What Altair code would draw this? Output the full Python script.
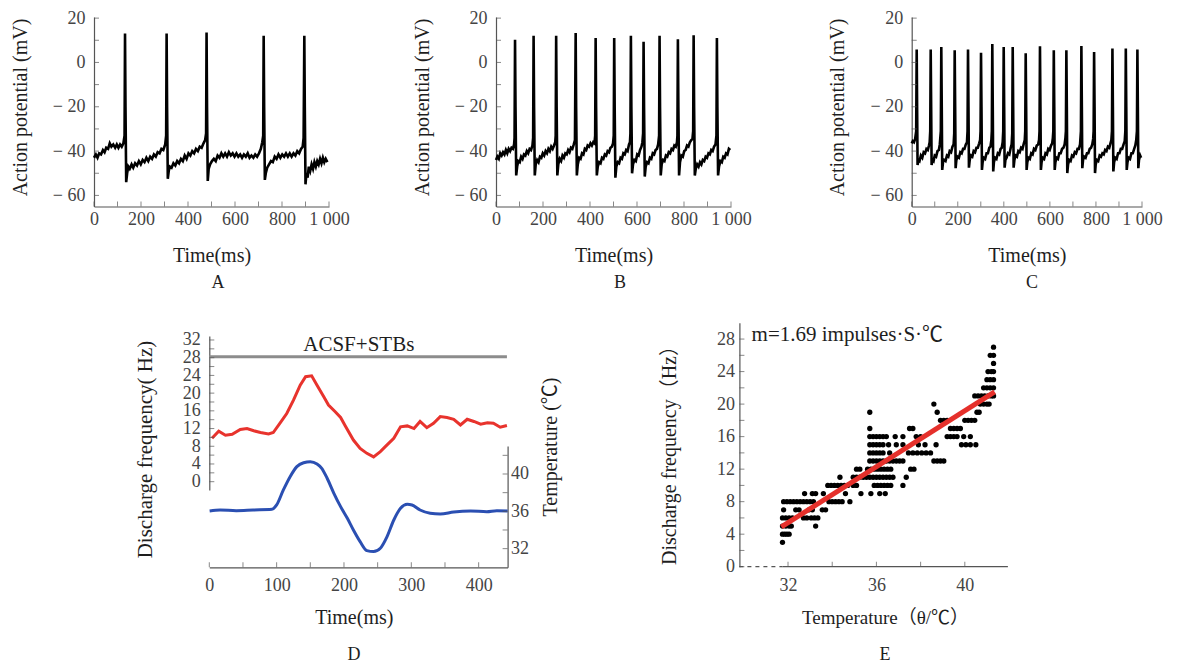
import altair as alt
import pandas as pd

FONT = "Liberation Serif, Noto Sans CJK SC"
W, H = 1165, 657
AXC = "#555555"
LBL = "#444444"
TTL = "#1e1e1e"

# ---------------- data ----------------
# Panel A/B/C : (time ms, potential mV)
trace_a = [(0,-43),(8,-41.5),(15,-43),(22,-41),(30,-41.5),(38,-39.5),(45,-40.5),(52,-38.5),(60,-39),(67,-36.5),
 (74,-38),(82,-37),(90,-38.5),(97,-37),(104,-38.5),(111,-37),(118,-38),(125,-36.5),(130,-33),(132,13),(134,-20),
 (137,-54),(141,-50),(146,-47),(152,-48),(160,-46),(167,-47.5),(175,-45.5),(183,-46.5),(191,-44.5),(199,-46),
 (207,-44),(215,-45),(223,-43),(231,-44.5),(239,-42.5),(247,-43.5),(255,-41.5),(263,-42.5),(271,-40.5),(279,-41),
 (287,-39),(295,-39.5),(303,-37),(307,-33),(309,13),(311,-20),(314,-52.5),(318,-49),(323,-47),(330,-47.5),
 (338,-45.5),(346,-46.5),(354,-44.5),(362,-45.5),(370,-43.5),(378,-44.5),(386,-42),(394,-43.5),(402,-41),
 (410,-42),(418,-40),(426,-41),(434,-39),(442,-40),(450,-38),(458,-38.5),(466,-36.5),(473,-35),(477,-32),
 (479,13.5),(481,-20),(484,-53.5),(488,-48),(494,-46),(502,-44.5),(510,-43.5),(518,-44.5),(526,-42),(534,-43),
 (542,-41),(550,-42.5),(558,-41),(566,-42.5),(574,-40.5),(582,-42),(590,-41),(598,-42.5),(606,-41),(614,-42.5),
 (622,-41.5),(630,-43),(638,-41.5),(646,-42.5),(654,-41),(662,-43),(670,-42),(678,-43),(686,-41.5),(694,-42.5),
 (702,-41),(710,-39),(716,-36),(720,-33),(722,12),(724,-20),(727,-53),(731,-50),(737,-47.5),(745,-46),
 (753,-44.5),(761,-45),(769,-42.5),(777,-43.5),(785,-41.5),(793,-43),(801,-41.5),(809,-42.5),(817,-41),
 (825,-42.5),(833,-41),(841,-42.5),(849,-41),(857,-42),(865,-40),(873,-41),(881,-39),(888,-38),(892,-34),
 (895,12),(897,-20),(900,-55),(904,-50),(909,-52),(914,-47),(920,-49),(926,-46),(932,-48),(938,-45),(944,-47),
 (950,-44.5),(956,-46),(962,-43.5),(968,-45.5),(974,-43),(980,-45),(986,-43.5),(993,-45)]

trace_b = [(0,-44),(6,-42.5),(12,-43.5),(18,-41),(24,-42),(30,-40.5),(36,-41.5),(42,-39.5),(48,-41),(54,-39),
 (60,-40),(66,-38.5),(72,-39),(77,-37),(79,-34),(81,10.2),(83,-20),(86,-51),(90,-47),(95,-44.5),(101,-45),
 (107,-42.5),(113,-43.5),(119,-41.5),(125,-42),(131,-40),(137,-41),(143,-39),(149,-39.5),(155,-37.5),(158,-34),
 (160,12),(162,-20),(165,-51),(169,-46),(175,-44),(181,-45),(187,-42.5),(193,-43),(199,-41),(205,-42),(211,-40),
 (217,-41),(223,-39),(229,-40),(235,-38),(241,-39),(247,-37.5),(252,-36),(254,-33),(256,12),(258,-20),(261,-51),
 (265,-46),(271,-43.5),(277,-44.5),(283,-42),(289,-43),(295,-41),(301,-41.5),(307,-39.5),(313,-40.5),(319,-38.5),
 (325,-39),(331,-37),(336,-35),(339,13.3),(341,-20),(344,-51),(348,-46),(354,-43),(360,-43.5),(366,-41),
 (372,-41.5),(378,-39),(384,-39.5),(390,-37.5),(396,-38),(402,-36.5),(408,-37.5),(414,-36),(419,-36.5),
 (422,-33),(424,11),(426,-20),(429,-51),(433,-47),(439,-45),(445,-45.5),(451,-43),(457,-43.5),(463,-41.5),
 (469,-42),(475,-40),(481,-40.5),(487,-38.5),(493,-38),(498,-36.5),(501,-33),(503,11),(505,-20),(508,-52),
 (512,-47),(518,-45),(524,-45.5),(530,-43),(536,-43.5),(542,-41),(548,-41.5),(554,-39.5),(560,-40),(566,-37),
 (570,-36),(572,-32),(574,12),(576,-20),(579,-50),(583,-46),(589,-44),(595,-44.5),(601,-41.5),(607,-42),
 (613,-39.5),(619,-38),(623,-36),(626,-32),(628,9.3),(630,-20),(633,-51.5),(637,-47),(643,-45),(649,-45.5),
 (655,-43),(661,-43.5),(667,-41),(673,-41.5),(679,-39.5),(685,-39),(690,-37),(694,-33),(696,12),(698,-20),
 (701,-51),(705,-46),(711,-44),(717,-44.5),(723,-42),(729,-42.5),(735,-40.5),(741,-41),(747,-39),(753,-39.5),
 (759,-37.5),(765,-38),(770,-36),(772,-33),(774,10.5),(776,-20),(779,-51),(783,-45),(789,-42),(795,-42.5),
 (801,-40),(807,-39.5),(813,-37.5),(819,-38),(825,-36),(831,-35),(836,-34.5),(839,-31),(841,12.3),(843,-20),
 (846,-51),(850,-48),(856,-46),(862,-47),(868,-45),(874,-46),(880,-44),(886,-44.5),(892,-42.5),(898,-43),
 (904,-41),(910,-41.5),(916,-39.5),(922,-40),(928,-38),(934,-37),(938,-33),(940,11),(942,-20),(945,-51),
 (949,-47),(955,-44.5),(961,-45),(967,-42.5),(973,-43),(979,-41),(985,-41.5),(991,-39),(997,-39.5)]

trace_c = [(0,-36.5),(5,-35.5),(10,-36),(15,-34.5),(19.5,-31),(21.7,5.8),(23.5,-20),(25.5,-46.3),(29,-44),
 (34,-44.5),(40,-42),(46,-43),(52,-40.5),(58,-41),(64,-39),(70,-39.5),(75,-37.5),(78,-36),(80.5,-31),(82.5,5.8),
 (84.5,-20),(86.5,-46.3),(90,-44),(95,-44.5),(100,-42),(106,-42.5),(112,-40),(118,-39.5),(122,-37),(126.5,-31),
 (128.5,7.0),(130.5,-20),(132.5,-48.5),(136,-45),(141,-44),(147,-44.5),(153,-42),(159,-42.5),(165,-40),
 (171,-40.5),(177,-38),(182,-37),(184.7,-32),(186.7,5.5),(188.7,-20),(190.7,-47.7),(194,-44),(199,-42.5),
 (205,-43),(211,-40.5),(217,-41),(223,-39),(229,-39),(235,-37),(240,-36),(242.5,-31),(244.5,5.8),(246.5,-20),
 (248.5,-47.5),(252,-44),(257,-42),(263,-42.5),(269,-40),(275,-40.5),(281,-38.5),(287,-38.5),(293,-36.5),
 (297,-35),(299,-31),(301,4.4),(303,-20),(305,-48.5),(308,-45),(313,-43),(319,-43.5),(325,-41),(331,-41),
 (337,-38.5),(342,-38),(346,-35),(348,-31),(350,8.3),(352,-20),(354,-49.2),(357,-45),(362,-43),(368,-43.5),
 (374,-41),(380,-41.5),(386,-39),(391,-38.5),(395,-36),(397.5,-31),(399.5,7.0),(401.5,-20),(403.5,-47.5),
 (407,-44),(412,-43),(418,-41),(424,-41.5),(430,-38.5),(434,-37),(436.6,-32),(438.6,7.0),(440.6,-20),
 (442.6,-47.5),(446,-44),(451,-42),(457,-42.5),(463,-40),(469,-40.5),(475,-38.5),(481,-39),(487,-36.5),
 (491,-35),(493,-31),(495,4.1),(497,-20),(499,-48.5),(502,-45),(507,-43),(513,-43.5),(519,-41),(525,-41.5),
 (531,-39),(537,-39.5),(543,-37.5),(549,-37),(553,-35),(555,-31),(557,7.3),(559,-20),(561,-48.5),(564,-45),
 (569,-43),(575,-43.5),(581,-41),(587,-41.5),(593,-39),(599,-39.5),(605,-37.5),(610,-36.5),(613,-34),(615,-31),
 (617,5.5),(619,-20),(621,-48.5),(624,-45),(629,-43),(635,-43.5),(641,-41),(647,-41),(653,-39),(659,-38.5),
 (664,-37),(667.6,-34),(669.6,-31),(671.6,5.5),(673.6,-20),(675.6,-49.9),(679,-46),(684,-44),(690,-44.5),
 (696,-42),(702,-42.5),(708,-40.5),(714,-41),(720,-39),(726,-39),(731,-37),(734.8,-31),(736.8,7.4),(738.8,-20),
 (740.8,-47.7),(744,-44),(749,-42.5),(755,-43),(761,-41),(767,-41),(773,-39),(779,-38.5),(784,-37),(788,-34.5),
 (790,-31),(792,4.7),(794,-20),(796,-49.9),(799,-46),(804,-44),(810,-44.5),(816,-42),(822,-42.5),(828,-41),
 (834,-41.5),(840,-39.5),(846,-40),(852,-38),(858,-38.5),(863,-36.5),(867,-35),(869.6,-31),(871.6,6.25),
 (873.6,-20),(875.6,-49.2),(879,-45),(884,-43),(890,-43.5),(896,-41),(902,-41),(908,-39),(914,-39),(920,-37),
 (925,-35.5),(927.7,-31),(929.7,6.25),(931.7,-20),(933.7,-48.5),(937,-45),(942,-43),(948,-43.5),(954,-41),
 (960,-41),(966,-39),(971,-37.5),(975,-35),(978,-31),(980,5.8),(982,-20),(984,-47.7),(987,-44),(992,-42),
 (996,-43)]

ap_x_ticks = [0, 100, 200, 300, 400, 500, 600, 700, 800, 900, 1000]
ap_x_labels = [0, 200, 400, 600, 800, 1000]
ap_y_ticks = [-60, -50, -40, -30, -20, -10, 0, 10, 20]
ap_y_labels = [-60, -40, -20, 0, 20]

# Panel D
d_red_t = [4, 14, 24, 34, 46, 56, 66, 76, 88, 95, 105, 115, 125, 135, 143, 152, 160, 170, 177, 187, 195, 202,
           214, 224, 234, 244, 254, 264, 274, 284, 294, 304, 313, 323, 333, 343, 353, 363, 373, 383, 393, 403,
           413, 422, 432, 442]
d_red_f = [9.8, 11.4, 10.5, 10.7, 11.8, 12.0, 11.5, 11.1, 10.8, 11.1, 13.2, 15.4, 18.4, 21.8, 23.7, 23.9, 21.8,
           19.2, 17.3, 15.8, 14.5, 12.6, 9.4, 7.5, 6.4, 5.6, 6.8, 8.3, 9.8, 12.4, 12.6, 12.0, 13.6, 12.2, 13.2,
           14.7, 14.5, 14.1, 12.8, 14.1, 13.6, 13.0, 13.3, 13.2, 12.3, 12.7]
d_blue_t = [0.5, 16, 40, 65, 93, 100, 110, 120, 130, 140, 150, 160, 167, 175, 185, 195, 205, 214, 224, 234, 244,
            254, 264, 274, 284, 294, 301, 313, 328, 343, 363, 388, 412, 427, 443]
d_blue_temp = [36.04, 36.14, 36.07, 36.14, 36.21, 36.68, 38.29, 39.71, 40.79, 41.21, 41.32, 41.07, 40.61, 39.54,
               37.93, 36.5, 35.25, 34.0, 32.75, 31.79, 31.68, 32.04, 33.29, 35.07, 36.32, 36.75, 36.68, 36.14,
               35.79, 35.71, 35.93, 36.04, 35.96, 36.07, 36.04]
d_bar = [(0, 442, 28.2)]
d_x_ticks = [0, 50, 100, 150, 200, 250, 300, 350, 400]
d_x_labels = [0, 100, 200, 300, 400]
d_f_ticks = [0, 2, 4, 6, 8, 10, 12, 14, 16, 18, 20, 22, 24, 26, 28, 30, 32]
d_f_labels = [0, 4, 8, 12, 16, 20, 24, 28, 32]
d_t_ticks = [32, 34, 36, 38, 40, 42]
d_t_labels = [32, 36, 40]

# Panel E : rows of (frequency, [temperatures])
e_rows = [
    (3, [31.75]),
    (4, [31.75, 31.85, 31.95, 32.05]),
    (5, [31.75, 31.9, 32.05, 32.15, 33.25]),
    (6, [31.75, 31.9, 32.05, 32.2, 32.7, 32.85, 33.05, 33.2, 33.35]),
    (7, [31.8, 32.35, 32.5, 32.95, 33.1, 33.55, 33.7]),
    (8, [31.8, 31.95, 32.1, 32.25, 32.4, 32.55, 32.7, 32.85, 33.0, 33.15, 33.85, 34.0, 34.15, 34.3, 34.45, 34.8]),
    (9, [32.75, 33.1, 33.25, 33.6, 34.6, 35.3, 35.75, 36.15, 36.4]),
    (10, [33.8, 33.95, 34.1, 34.25, 34.4, 34.55, 34.7, 34.95, 35.1, 35.9, 36.05, 36.2, 36.35, 36.5, 36.65, 37.2]),
    (11, [34.35, 34.95, 35.1, 35.25, 35.4, 35.55, 35.7, 35.85, 36.0, 36.15, 36.3, 36.45, 36.6, 36.75, 37.35]),
    (12, [35.1, 35.25, 35.6, 35.75, 35.9, 36.05, 36.2, 36.35, 36.5, 36.65, 37.55, 37.7]),
    (13, [35.7, 35.85, 36.0, 36.15, 36.3, 36.45, 36.6, 36.75, 36.9, 37.05, 37.2, 38.6, 38.75, 38.9, 39.05]),
    (14, [35.7, 35.85, 36.0, 36.15, 36.3, 36.6, 37.45, 37.65, 37.85, 38.05, 38.25, 38.45]),
    (15, [35.7, 35.85, 36.0, 36.15, 36.3, 36.55, 36.9, 37.2, 37.9, 38.2, 38.7, 39.85, 40.05, 40.25, 40.5]),
    (16, [35.7, 35.85, 36.0, 36.15, 36.3, 36.45, 36.85, 37.2, 37.8, 38.0, 39.2, 39.35, 39.5, 39.65, 39.95, 40.25]),
    (17, [35.7, 37.5, 37.65, 39.35, 39.5, 39.65, 39.8]),
    (18, [38.9, 39.05, 39.2, 40.0, 40.15, 40.3, 40.45]),
    (19, [35.7, 38.75, 40.55, 40.65]),
    (20, [38.6, 40.7, 40.85, 41.0, 41.1]),
    (21, [40.45, 40.6, 40.75, 40.9, 41.05, 41.2, 41.3]),
    (22, [40.85, 41.0, 41.15, 41.3]),
    (23, [41.0, 41.15, 41.3]),
    (24, [41.05, 41.2, 41.3]),
    (25, [41.3]),
    (26, [41.15, 41.3]),
    (27, [41.3]),
]
e_fit_temp = [31.7, 41.35]
e_fit_freq = [4.9, 21.5]
e_x_ticks = [32, 34, 36, 38, 40]
e_x_labels = [32, 36, 40]
e_y_ticks = [0, 2, 4, 6, 8, 10, 12, 14, 16, 18, 20, 22, 24, 26, 28]
e_y_labels = [0, 4, 8, 12, 16, 20, 24, 28]


# ---------------- helpers ----------------
def S(dom, rng):
    return alt.Scale(domain=dom, range=rng, nice=False, zero=False)


def tick_x(vals, xs, ypix):
    df = pd.DataFrame({"x": vals})
    return alt.Chart(df).mark_tick(orient="vertical", size=5, thickness=1, color=AXC).encode(
        x=alt.X("x:Q", scale=xs, axis=None), y=alt.value(ypix))


def tick_y(vals, ys, xpix):
    df = pd.DataFrame({"y": vals})
    return alt.Chart(df).mark_tick(orient="horizontal", size=5, thickness=1, color=AXC).encode(
        y=alt.Y("y:Q", scale=ys, axis=None), x=alt.value(xpix))


def letter(s, x, y):
    return alt.Chart(pd.DataFrame({"s": [s]})).mark_text(
        font=FONT, fontSize=18, color=TTL, baseline="middle", align="center").encode(
        x=alt.value(x), y=alt.value(y), text="s:N")


NEG = "datum.value < 0 ? '\u2212 ' + abs(datum.value) : '' + datum.value"
THOUS = "datum.value == 1000 ? '1 000' : '' + datum.value"

layers = []

# ---------------- top row ----------------
TOP_YD = [-65, 20.5]
TOP_YR = [198.5, 9.0]
top_panels = [("A", trace_a, [86, 321], 210), ("B", trace_b, [488, 723], 612), ("C", trace_c, [903.7, 1134], 1024)]
for name, tr, xr, lx in top_panels:
    xs = S([0, 1000], xr)
    ys = S(TOP_YD, TOP_YR)
    df = pd.DataFrame(tr, columns=["t", "v"])
    layers.append(
        alt.Chart(df).mark_line(color="black", strokeWidth=2.6).encode(
            x=alt.X("t:Q", scale=xs, axis=alt.Axis(
                orient="bottom", offset=TOP_YR[0] - H, values=ap_x_labels, labelExpr=THOUS,
                title="Time(ms)", titleFontSize=20, titleY=48.5, titleBaseline="middle",
                labelPadding=13, labelBaseline="middle", labelFlush=False, labelOverlap=False)),
            y=alt.Y("v:Q", scale=ys, axis=alt.Axis(
                orient="left", offset=-xr[0], values=ap_y_labels, labelExpr=NEG,
                title="Action potential (mV)", titleFontSize=20, titleAngle=270, titleX=-74, titleY=99,
                titleBaseline="middle", labelPadding=9, labelFlush=False, labelOverlap=False)),
        )
    )
    layers.append(tick_x(ap_x_ticks, xs, TOP_YR[0] - 2.5))
    layers.append(tick_y(ap_y_ticks, ys, xr[0] + 2.5))
    layers.append(letter(name, lx, 275))

# ---------------- panel D ----------------
dxs = S([0, 443], [201.3, 499.6])
dyl = S([-1.9, 32.9], [482.1, 328.0])
dyr = S([30, 43], [559.3, 438.0])
df_red = pd.DataFrame({"t": d_red_t, "f": d_red_f})
df_blue = pd.DataFrame({"t": d_blue_t, "c": d_blue_temp})
layers.append(
    alt.Chart(df_red).mark_line(color="#e8332d", strokeWidth=3).encode(
        x=alt.X("t:Q", scale=dxs, axis=alt.Axis(
            orient="bottom", offset=559.3 - H, values=d_x_labels, title="Time(ms)", titleFontSize=20,
            titleX=345.8, titleY=50.4, titleBaseline="middle", labelPadding=18, labelBaseline="middle",
            labelFlush=False, labelOverlap=False)),
        y=alt.Y("f:Q", scale=dyl, axis=alt.Axis(
            orient="left", offset=-201.3, values=d_f_labels, title="Discharge frequency( Hz)",
            titleFontSize=21, titleAngle=270, titleX=-64.3, titleY=441, titleBaseline="middle",
            labelPadding=9, labelFlush=False, labelOverlap=False)),
    )
)
layers.append(
    alt.Chart(df_blue).mark_line(color="#2b4fb2", strokeWidth=3, interpolate="monotone").encode(
        x=alt.X("t:Q", scale=dxs, axis=None),
        y=alt.Y("c:Q", scale=dyr, axis=alt.Axis(
            orient="right", offset=499.6 - W, values=d_t_labels, title="Temperature (\u2103)",
            titleFontSize=20, titleAngle=270, titleX=42.5, titleY=438.5, titleBaseline="middle",
            labelPadding=3, labelFlush=False, labelOverlap=False)),
    )
)
df_bar = pd.DataFrame(d_bar, columns=["x0", "x1", "y"])
layers.append(
    alt.Chart(df_bar).mark_rule(color="#8c8c8c", strokeWidth=3).encode(
        x=alt.X("x0:Q", scale=dxs, axis=None), x2="x1:Q", y=alt.Y("y:Q", scale=dyl, axis=None))
)
layers.append(
    alt.Chart(pd.DataFrame({"x": [222], "y": [30.9], "s": ["ACSF+STBs"]})).mark_text(
        font=FONT, fontSize=21, color=TTL, baseline="middle", align="center").encode(
        x=alt.X("x:Q", scale=dxs, axis=None), y=alt.Y("y:Q", scale=dyl, axis=None), text="s:N")
)
layers.append(tick_x(d_x_ticks, dxs, 559.3 - 2.5))
layers.append(tick_y(d_f_ticks, dyl, 201.3 + 2.5))
layers.append(tick_y(d_t_ticks, dyr, 499.6 - 2.5))
layers.append(letter("D", 346, 647))

# ---------------- panel E ----------------
exs = S([29.8, 41.95], [731.4, 999.9])
eys = S([0, 30], [558.7, 314.8])
e_temp = [t for f, ts in e_rows for t in ts]
e_freq = [f for f, ts in e_rows for t in ts]
df_e = pd.DataFrame({"temp": e_temp, "freq": e_freq})
layers.append(
    alt.Chart(df_e).mark_circle(size=28, color="black", opacity=1).encode(
        x=alt.X("temp:Q", scale=exs, axis=alt.Axis(
            orient="bottom", offset=558.7 - H, values=e_x_labels, domain=False,
            title="Temperature\uff08\u03b8/\u2103\uff09", titleFontSize=19, titleX=877, titleY=50.3,
            titleBaseline="middle", labelPadding=19, labelBaseline="middle", labelFlush=False,
            labelOverlap=False)),
        y=alt.Y("freq:Q", scale=eys, axis=alt.Axis(
            orient="left", offset=-731.4, values=e_y_labels, title="Discharge frequency\uff08Hz\uff09",
            titleFontSize=20, titleAngle=270, titleX=-70.4, titleY=442, titleBaseline="middle",
            labelPadding=5, labelFlush=False, labelOverlap=False)),
    )
)
layers.append(
    alt.Chart(pd.DataFrame({"temp": e_fit_temp, "freq": e_fit_freq})).mark_line(
        color="#e5302b", strokeWidth=5).encode(
        x=alt.X("temp:Q", scale=exs, axis=None), y=alt.Y("freq:Q", scale=eys, axis=None))
)
e_axis_parts = pd.DataFrame({"x0": [29.8], "x1": [31.75], "y": [0]})
e_axis_solid = pd.DataFrame({"x0": [31.75], "x1": [41.95], "y": [0]})
layers.append(
    alt.Chart(e_axis_parts).mark_rule(color=AXC, strokeWidth=1.2, strokeDash=[4, 4]).encode(
        x=alt.X("x0:Q", scale=exs, axis=None), x2="x1:Q", y=alt.Y("y:Q", scale=eys, axis=None))
)
layers.append(
    alt.Chart(e_axis_solid).mark_rule(color=AXC, strokeWidth=1.2).encode(
        x=alt.X("x0:Q", scale=exs, axis=None), x2="x1:Q", y=alt.Y("y:Q", scale=eys, axis=None))
)
layers.append(tick_x(e_x_ticks, exs, 558.7 - 2.5))
layers.append(tick_y(e_y_ticks, eys, 731.4 + 2.5))
layers.append(
    alt.Chart(pd.DataFrame({"x": [30.35], "y": [28.5], "s": ["m=1.69 impulses\u00b7S\u00b7\u2103"]})).mark_text(
        font=FONT, fontSize=21, color=TTL, baseline="middle", align="left").encode(
        x=alt.X("x:Q", scale=exs, axis=None), y=alt.Y("y:Q", scale=eys, axis=None), text="s:N")
)
layers.append(letter("E", 877, 647))

chart = alt.layer(*layers).resolve_scale(x="independent", y="independent").properties(
    width=W, height=H, autosize=alt.AutoSizeParams(type="none"), padding=0
).configure_view(strokeWidth=0).configure_axis(
    labelFont=FONT, titleFont=FONT, labelFontSize=18, labelColor=LBL, titleColor=TTL,
    titleFontWeight="normal", domainColor=AXC, domainWidth=1.2, grid=False, ticks=False, tickSize=0
)

chart.save("out.html", embed_options={"renderer": "svg", "actions": False})
